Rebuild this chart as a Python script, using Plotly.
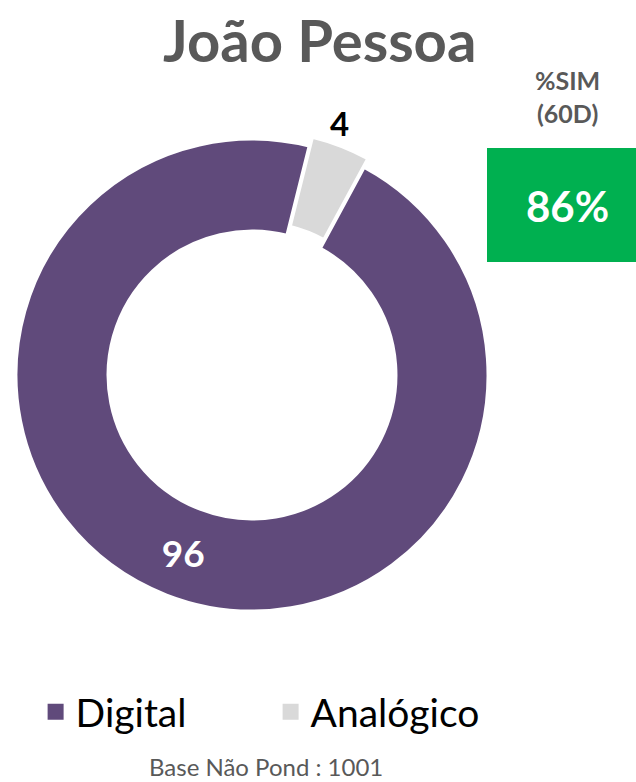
import math
import plotly.graph_objects as go

title_text = "João Pessoa"
categories = ["Analógico", "Digital"]
values = [4, 96]
colors = ["#D9D9D9", "#604A7B"]
kpi_label = "%SIM<br>(60D)"
kpi_value = "86%"
base_note = "Base Não Pond : 1001"

W, H = 636, 782
pull = 0.04
rotation = 14
cx, cy, R = 252, 375, 236
half = R * (1 + pull)

fig = go.Figure()
fig.add_trace(go.Pie(
    labels=categories,
    values=values,
    hole=0.61,
    sort=False,
    direction="clockwise",
    rotation=rotation,
    pull=[pull, 0],
    marker=dict(colors=colors, line=dict(color="white", width=3)),
    texttemplate="%{value}",
    textposition=["none", "inside"],
    insidetextorientation="horizontal",
    insidetextfont=dict(family="Lato", size=37, color="white", weight="bold"),
    hoverinfo="label+value",
    showlegend=False,
    domain=dict(x=[max(0, (cx - half) / W), (cx + half) / W],
                y=[1 - (cy + half) / H, 1 - (cy - half) / H]),
))

# outside label for the small slice, placed just above the slice
lab_angle = math.radians(rotation + 360 * values[0] / sum(values) * 0.35)
r_lab = 267
lab_x = cx + r_lab * math.sin(lab_angle)
lab_y = cy - r_lab * math.cos(lab_angle)

# legend entries as dummy scatter markers
for name, col in zip(categories[::-1], colors[::-1]):
    fig.add_trace(go.Scatter(x=[None], y=[None], mode="markers", name=name,
                             marker=dict(symbol="square", size=18, color=col)))

fig.update_layout(
    width=W, height=H,
    margin=dict(l=0, r=0, t=0, b=0),
    paper_bgcolor="white", plot_bgcolor="white",
    xaxis=dict(visible=False), yaxis=dict(visible=False),
    font=dict(family="Lato"),
    legend=dict(orientation="h", x=0.056, y=1 - 712 / H, xanchor="left", yanchor="middle",
                font=dict(family="Lato", size=39, color="black"),
                itemsizing="trace", itemwidth=30, tracegroupgap=0,
                entrywidthmode="pixels", entrywidth=190),
    annotations=[
        dict(text=f"<b>{title_text}</b>", x=319 / W, y=1 - 40 / H, xref="paper", yref="paper",
             xanchor="center", yanchor="middle",
             showarrow=False, font=dict(family="Lato", size=58, color="#595959")),
        dict(text=f"<b>{values[0]}</b>", x=lab_x / W, y=1 - lab_y / H, xref="paper", yref="paper",
             xanchor="center", yanchor="middle",
             showarrow=False, font=dict(family="Lato", size=33, color="black")),
        dict(text=f"<b>{kpi_label}</b>", x=567 / W, y=1 - 97 / H, xref="paper", yref="paper",
             xanchor="center", yanchor="middle",
             showarrow=False, font=dict(family="Lato", size=25, color="#595959")),
        dict(text=f"<b>{kpi_value}</b>", x=567 / W, y=1 - 206 / H, xref="paper", yref="paper",
             xanchor="center", yanchor="middle",
             showarrow=False, font=dict(family="Lato", size=42, color="white")),
        dict(text=base_note, x=266 / W, y=1 - 766 / H, xref="paper", yref="paper",
             xanchor="center", yanchor="middle",
             showarrow=False, font=dict(family="Lato", size=24, color="#595959")),
    ],
    shapes=[
        dict(type="rect", xref="paper", yref="paper", x0=487 / W, x1=636 / W,
             y0=1 - 262 / H, y1=1 - 148 / H, fillcolor="#00B050", line=dict(width=0), layer="below"),
    ],
)

fig.write_html("out.html", config={"displayModeBar": False},
               post_script="document.body.style.margin='0';document.body.style.overflow='hidden';")
